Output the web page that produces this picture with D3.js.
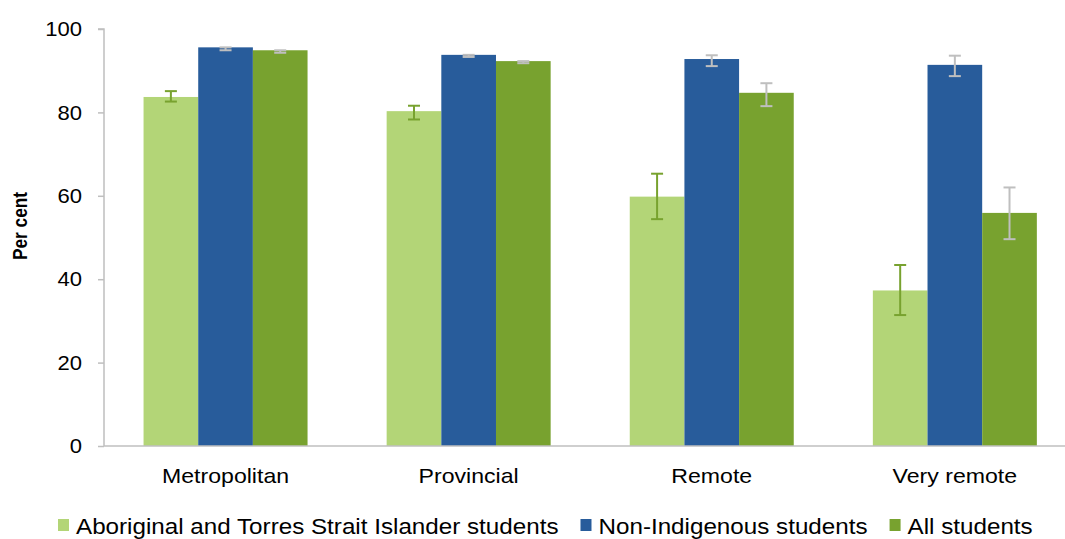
<!DOCTYPE html>
<html>
<head>
<meta charset="utf-8">
<script src="https://cdn.jsdelivr.net/npm/d3@7/dist/d3.min.js"></script>
<style>
  html, body { margin: 0; padding: 0; background: #fff; }
  svg { display: block; font-family: "Liberation Sans", Arial, sans-serif; }
</style>
</head>
<body>
<svg id="chart" width="1065" height="539"></svg>
<script>
// Categories and series
const categories = ["Metropolitan", "Provincial", "Remote", "Very remote"];
const seriesNames = ["Aboriginal and Torres Strait Islander students", "Non-Indigenous students", "All students"];

// Per cent values by category, one array per series
const indigenous    = [83.7, 80.3, 59.8, 37.3];
const nonIndigenous = [95.6, 93.8, 92.8, 91.4];
const allStudents   = [94.9, 92.3, 84.7, 55.9];

// Confidence intervals (lower, upper) per series
const indigenousLo    = [82.6, 78.3, 54.4, 31.4];
const indigenousHi    = [85.1, 81.6, 65.3, 43.4];
const nonIndigenousLo = [94.9, 93.3, 91.1, 88.7];
const nonIndigenousHi = [95.6, 93.8, 93.7, 93.6];
const allStudentsLo   = [94.3, 91.8, 81.5, 49.6];
const allStudentsHi   = [94.9, 92.3, 87.0, 62.0];

const yTicks = [0, 20, 40, 60, 80, 100];

const colors = ["#b3d577", "#285c9b", "#78a22f"];
const errColors = ["#78a22f", "#bfbfbf", "#bfbfbf"];

const values = [indigenous, nonIndigenous, allStudents];
const lows = [indigenousLo, nonIndigenousLo, allStudentsLo];
const highs = [indigenousHi, nonIndigenousHi, allStudentsHi];

const svg = d3.select("#chart");
const axisLeft = 104, axisBottom = 446, axisTop = 29;
const step = 243.1;

const y = d3.scaleLinear().domain([0, 100]).range([axisBottom, axisTop]);
const x0 = d3.scaleBand().domain(categories)
  .range([axisLeft, axisLeft + step * categories.length])
  .paddingInner(0.3254).paddingOuter(0.1627);
const x1 = d3.scaleBand().domain(d3.range(seriesNames.length))
  .range([0, x0.bandwidth()]).padding(0);

// Text in this chart is set slightly wide; stretch each label horizontally
function widen(sel, k) {
  sel.each(function () {
    const w = this.getComputedTextLength();
    this.__w = w * k;
    d3.select(this).attr("textLength", w * k).attr("lengthAdjust", "spacingAndGlyphs");
  });
}

// Bars
const groups = svg.append("g").selectAll("g").data(categories).join("g")
  .attr("transform", d => `translate(${x0(d)},0)`);

seriesNames.forEach((s, si) => {
  groups.append("rect")
    .attr("x", x1(si))
    .attr("width", x1.bandwidth())
    .attr("y", (d, ci) => y(values[si][ci]))
    .attr("height", (d, ci) => y(0) - y(values[si][ci]))
    .attr("fill", colors[si]);
});

// Error bars
seriesNames.forEach((s, si) => {
  const cx = x1(si) + x1.bandwidth() / 2;
  const eb = groups.append("g").attr("stroke", errColors[si]).attr("stroke-width", 2).attr("fill", "none");
  eb.append("line").attr("x1", cx).attr("x2", cx)
    .attr("y1", (d, ci) => y(lows[si][ci])).attr("y2", (d, ci) => y(highs[si][ci]));
  eb.append("line").attr("x1", cx - 6).attr("x2", cx + 6)
    .attr("y1", (d, ci) => y(lows[si][ci])).attr("y2", (d, ci) => y(lows[si][ci]));
  eb.append("line").attr("x1", cx - 6).attr("x2", cx + 6)
    .attr("y1", (d, ci) => y(highs[si][ci])).attr("y2", (d, ci) => y(highs[si][ci]));
});

// Y axis
const yAxis = svg.append("g").attr("transform", `translate(${axisLeft},0)`)
  .call(d3.axisLeft(y).tickValues(yTicks).tickSize(6).tickPadding(16));
yAxis.select(".domain").attr("stroke", "#bfbfbf").attr("stroke-width", 1.5)
  .attr("d", `M-6,${y(100)}H0V${y(0)}`);
yAxis.selectAll(".tick line").attr("stroke", "#bfbfbf").attr("stroke-width", 1.5);
yAxis.selectAll(".tick text").attr("font-size", 21).attr("fill", "#000")
  .attr("font-family", "Liberation Sans, Arial, sans-serif").call(widen, 1.05);

// X axis line
svg.append("line").attr("x1", axisLeft).attr("x2", 1065)
  .attr("y1", axisBottom).attr("y2", axisBottom)
  .attr("stroke", "#bfbfbf").attr("stroke-width", 1.5);

// Category labels
svg.append("g").selectAll("text").data(categories).join("text")
  .attr("x", d => x0(d) + x0.bandwidth() / 2)
  .attr("y", 483)
  .attr("text-anchor", "middle")
  .attr("font-size", 21)
  .text(d => d)
  .call(widen, 1.1);

// Y axis title
svg.append("text")
  .attr("transform", `translate(27,226) rotate(-90)`)
  .attr("text-anchor", "middle")
  .attr("font-size", 20)
  .attr("font-weight", "bold")
  .text("Per cent")
  .call(widen, 0.86);

// Legend
const legend = svg.append("g");
let lx = 58;
seriesNames.forEach((s, si) => {
  legend.append("rect").attr("x", lx).attr("y", 519).attr("width", 11).attr("height", 12).attr("fill", colors[si]);
  const t = legend.append("text").attr("x", lx + 18).attr("y", 534).attr("font-size", 22).text(s).call(widen, 1.1);
  lx += 18 + t.node().__w + 22;
});
</script>
</body>
</html>
